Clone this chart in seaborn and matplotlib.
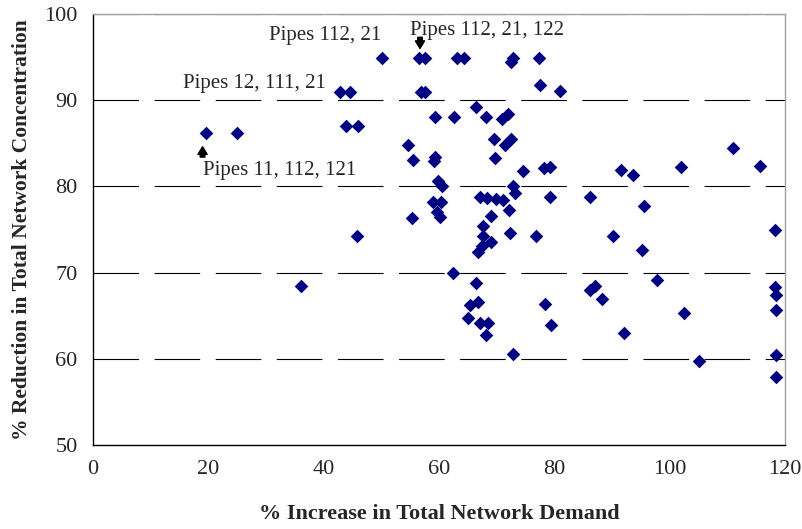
import numpy as np
import pandas as pd
import matplotlib
matplotlib.use("Agg")
import matplotlib.pyplot as plt
import seaborn as sns

# % increase in total network demand (x) vs % reduction in concentration (y)
demand_increase = [19.6, 25.0, 36.0, 42.9, 44.6, 43.9, 46.0, 45.7, 50.1, 56.6,
                   57.6, 63.1, 64.4, 72.8, 72.4, 77.4, 77.5, 81.0, 56.8, 57.6,
                   59.3, 62.6, 66.5, 68.2, 70.9, 71.9, 54.7, 55.5, 59.3, 59.1,
                   69.5, 71.4, 72.4, 69.7, 74.5, 78.2, 79.3, 59.8, 60.5, 72.8,
                   73.2, 79.2, 86.1, 59.0, 60.4, 59.6, 60.2, 55.3, 67.1, 68.4,
                   69.8, 71.1, 72.2, 69.1, 67.7, 67.6, 69.1, 67.4, 66.8, 72.3,
                   76.8, 62.5, 66.4, 65.4, 66.8, 65.1, 67.1, 68.5, 68.2, 72.8,
                   78.3, 79.4, 86.2, 87.0, 88.3, 111.0, 115.7, 91.5, 93.7, 101.9,
                   95.6, 90.2, 95.2, 118.3, 97.8, 102.5, 92.0, 105.0, 118.3, 118.4,
                   118.4, 118.4, 118.4]
conc_reduction = [86.2, 86.2, 68.5, 91.0, 91.0, 87.0, 87.0, 74.3, 94.9, 94.9,
                  94.9, 94.9, 94.9, 94.9, 94.4, 94.9, 91.8, 91.1, 91.0, 91.0,
                  88.0, 88.0, 89.2, 88.1, 87.8, 88.4, 84.8, 83.1, 83.4, 83.0,
                  85.5, 84.8, 85.5, 83.3, 81.8, 82.1, 82.2, 80.6, 80.0, 80.0,
                  79.2, 78.8, 78.8, 78.2, 78.2, 77.0, 76.4, 76.3, 78.8, 78.6,
                  78.5, 78.4, 77.3, 76.6, 75.4, 74.3, 73.6, 73.1, 72.4, 74.6,
                  74.3, 70.0, 68.8, 66.2, 66.6, 64.7, 64.2, 64.1, 62.8, 60.6,
                  66.4, 63.9, 68.0, 68.5, 66.9, 84.5, 82.4, 81.9, 81.3, 82.3,
                  77.7, 74.2, 72.6, 74.9, 69.1, 65.3, 63.0, 59.8, 68.3, 67.4,
                  65.7, 60.4, 57.9]

labels = ["Pipes 112, 21", "Pipes 112, 21, 122", "Pipes 12, 111, 21", "Pipes 11, 112, 121"]
label_x = [30.5, 55.0, 15.55, 19.0]
label_y = [96.98, 97.56, 91.38, 81.32]

df = pd.DataFrame({"demand": demand_increase, "conc": conc_reduction})

sns.set_style("white")
plt.rcParams["font.family"] = ["Liberation Serif", "DejaVu Serif"]

fig = plt.figure(figsize=(8.03, 5.29), dpi=100)
ax = fig.add_axes([0.1158, 0.1588, 0.8618, 0.8147])

for yv in [60, 70, 80, 90, 100]:
    ax.axhline(yv, color="black", lw=0.8, linestyle=(0, (41, 14)), zorder=1)

sns.scatterplot(data=df, x="demand", y="conc", marker="D", s=48,
                color="#000080", edgecolor="#000080", linewidth=0, ax=ax, zorder=3)

for txt, tx, ty in zip(labels, label_x, label_y):
    ax.text(tx, ty, txt, fontsize=15, ha="left", va="baseline", zorder=4)

arrow_kw = dict(arrowstyle="simple,head_width=0.6,head_length=0.5,tail_width=0.3",
                color="black", mutation_scale=11, shrinkA=0, shrinkB=0)
ax.annotate("", xy=(56.7, 96.0), xytext=(56.7, 97.3), arrowprops=arrow_kw)
ax.annotate("", xy=(19.0, 84.6), xytext=(19.0, 83.4), arrowprops=arrow_kw)

ax.set_xlim(0, 120)
ax.set_ylim(50, 100)
ax.set_xticks(range(0, 121, 20))
ax.set_yticks(range(50, 101, 10))
ax.tick_params(axis="both", direction="out", length=5, width=1, color="black",
               labelsize=16, pad=6)
ax.set_xlabel("% Increase in Total Network Demand", fontsize=16, fontweight="bold", labelpad=18)
ax.set_ylabel("% Reduction in Total Network Concentration", fontsize=15.5, fontweight="bold", labelpad=9)

for side in ["left", "bottom"]:
    ax.spines[side].set_color("black")
    ax.spines[side].set_linewidth(1)
for side in ["top", "right"]:
    ax.spines[side].set_color("#a0a0a0")
    ax.spines[side].set_linewidth(1)

fig.savefig("out.png", dpi=100)
